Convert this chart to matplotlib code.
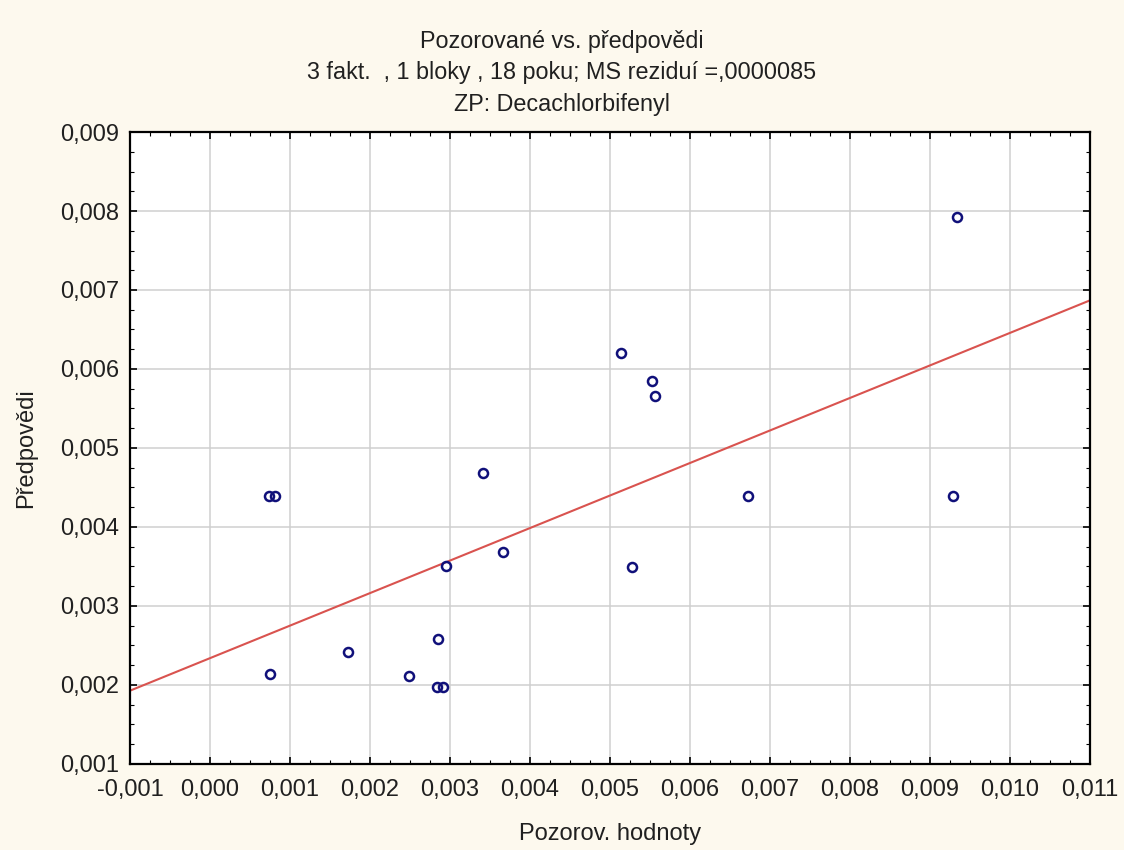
import numpy as np
import matplotlib
matplotlib.use("Agg")
import matplotlib.pyplot as plt
from matplotlib.ticker import FuncFormatter, AutoMinorLocator

plt.rcParams['font.family'] = ['Liberation Sans', 'DejaVu Sans']

# Observed vs. predicted values of the response
observed = [0.00934, 0.00514, 0.00553, 0.00556, 0.00672, 0.00341, 0.00366,
            0.00074, 0.00081, 0.00295, 0.00285, 0.00172, 0.00075, 0.00249,
            0.00284, 0.00291, 0.00528, 0.00929]
predicted = [0.00792, 0.00620, 0.00585, 0.00566, 0.00439, 0.00468, 0.00368,
             0.00439, 0.00439, 0.00350, 0.00258, 0.00242, 0.00214, 0.00212,
             0.00198, 0.00198, 0.00349, 0.00439]

x_ticks = [-0.001, 0.000, 0.001, 0.002, 0.003, 0.004, 0.005, 0.006,
           0.007, 0.008, 0.009, 0.010, 0.011]
y_ticks = [0.001, 0.002, 0.003, 0.004, 0.005, 0.006, 0.007, 0.008, 0.009]

title_lines = ["Pozorované vs. předpovědi",
               "3 fakt.  , 1 bloky , 18 poku; MS reziduí =,0000085",
               "ZP: Decachlorbifenyl"]
x_label = "Pozorov. hodnoty"
y_label = "Předpovědi"

bg = "#fdf9ee"
text_color = "#202020"
fig = plt.figure(figsize=(11.24, 8.5), dpi=100, facecolor=bg)
ax = fig.add_axes([0.1157, 0.1012, 0.8541, 0.7435])
ax.set_facecolor("white")

ax.set_xlim(x_ticks[0], x_ticks[-1])
ax.set_ylim(y_ticks[0], y_ticks[-1])
ax.set_xticks(x_ticks)
ax.set_yticks(y_ticks)
ax.xaxis.set_minor_locator(AutoMinorLocator(4))
ax.yaxis.set_minor_locator(AutoMinorLocator(4))

fmt = FuncFormatter(lambda v, _: f"{v:.3f}".replace(".", ",").replace("-0,000", "0,000"))
ax.xaxis.set_major_formatter(fmt)
ax.yaxis.set_major_formatter(fmt)

ax.grid(True, which="major", color="#cfcfcf", linewidth=1.1)
ax.set_axisbelow(True)
for s in ax.spines.values():
    s.set_linewidth(1.6)
    s.set_color("black")

ax.tick_params(which="both", direction="in", top=True, right=True,
               colors="black", labelcolor=text_color, labelsize=17)
ax.tick_params(axis="x", which="major", pad=11)
ax.tick_params(axis="y", which="major", pad=8)
ax.tick_params(which="major", length=5, width=1.2)
ax.tick_params(which="minor", length=3, width=0.8)

# Least-squares fit of predicted on observed
xo = np.array(observed)
yp = np.array(predicted)
slope, intercept = np.polyfit(xo, yp, 1)
xl = np.array(ax.get_xlim())
ax.plot(xl, intercept + slope * xl, color="#d9534f", linewidth=1.5, zorder=2)

ax.plot(observed, predicted, linestyle="none", marker="o", markersize=6.5,
        markerfacecolor="none", markeredgecolor="#10107a", markeredgewidth=1.8,
        zorder=3)

ax.set_xlabel(x_label, fontsize=17, color=text_color, labelpad=16)
ax.set_ylabel(y_label, fontsize=17, color=text_color, labelpad=16)

for i, line in enumerate(title_lines):
    fig.text(0.5, 0.951 - i * 0.0367, line, ha="center", va="center",
             fontsize=16.8, color=text_color)

fig.savefig("out.png", dpi=100, facecolor=bg)
